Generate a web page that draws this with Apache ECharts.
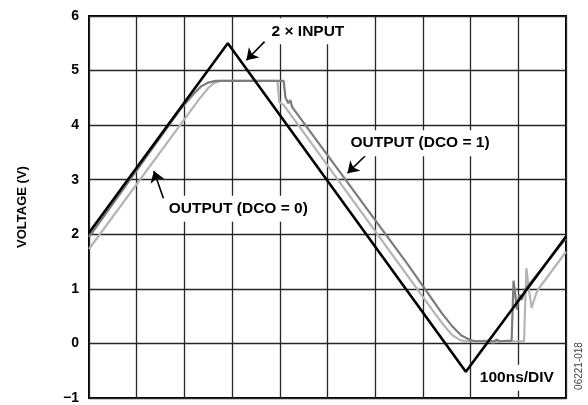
<!DOCTYPE html>
<html>
<head>
<meta charset="utf-8">
<script src="https://cdn.jsdelivr.net/npm/echarts@6/dist/echarts.min.js"></script>
<style>
html, body { margin: 0; padding: 0; background: #fff; }
#chart { width: 588px; height: 405px; }
</style>
</head>
<body>
<div id="chart"></div>
<script>
// time in divisions (100ns/DIV), voltage in V
var inputT = [0, 2.91, 7.90, 10]
var inputV = [2.03, 5.50, -0.52, 1.96]

var dco1T = [0, 1.9, 2.2, 2.35, 2.5, 2.65, 4.08, 4.12, 4.18, 4.22, 4.26, 6.69, 7.40, 7.60, 7.80, 8.00, 8.10, 8.50, 8.55, 8.60, 8.86, 8.90, 8.93, 8.97, 9.02, 9.07, 9.15, 10]
var dco1V = [1.95, 4.27, 4.58, 4.71, 4.78, 4.81, 4.81, 4.50, 4.40, 4.46, 4.33, 1.44, 0.55, 0.33, 0.15, 0.06, 0.04, 0.04, 0.07, 0.04, 0.05, 1.15, 0.95, 0.62, 0.90, 0.80, 1.00, 1.92]

var dco0T = [0, 2.33, 2.50, 2.62, 2.75, 3.95, 3.99, 4.03, 4.08, 7.25, 7.45, 7.62, 7.78, 7.90, 8.40, 8.45, 8.70, 9.12, 9.17, 9.22, 9.28, 9.35, 9.40, 10]
var dco0V = [1.73, 4.50, 4.68, 4.77, 4.81, 4.81, 4.42, 4.45, 4.37, 0.55, 0.32, 0.15, 0.06, 0.04, 0.05, 0.02, 0.04, 0.04, 1.38, 1.00, 0.65, 0.85, 0.97, 1.68]

var yTicks = [-1, 0, 1, 2, 3, 4, 5, 6]

function zip(t, v) {
  return t.map(function (x, i) { return [x, v[i]] })
}

var font = 'Liberation Sans, Arial, sans-serif'

function note(text, x, y) {
  return {
    coord: [x, y],
    symbol: 'rect',
    symbolSize: 0,
    label: {
      show: true,
      position: 'inside',
      formatter: text,
      color: '#000',
      fontFamily: font,
      fontWeight: 'bold',
      fontSize: 15.5,
      backgroundColor: '#fff',
      padding: [5, 3]
    }
  }
}

function arrow(x1, y1, x2, y2) {
  return [{ coord: [x1, y1] }, { coord: [x2, y2] }]
}

var chart = echarts.init(document.getElementById('chart'))

var option = {
  animation: false,
  backgroundColor: '#fff',
  grid: {
    left: 89,
    top: 16,
    width: 477,
    height: 382,
    show: true,
    borderColor: '#000',
    borderWidth: 2,
    backgroundColor: 'transparent'
  },
  xAxis: {
    type: 'value',
    min: 0,
    max: 10,
    interval: 1,
    axisLine: { show: false },
    axisTick: { show: false },
    axisLabel: { show: false },
    splitLine: { show: true, lineStyle: { color: '#262626', width: 1.3 } }
  },
  yAxis: {
    type: 'value',
    min: yTicks[0],
    max: yTicks[yTicks.length - 1],
    interval: 1,
    name: 'VOLTAGE (V)',
    nameLocation: 'middle',
    nameRotate: 90,
    nameGap: 60,
    nameTextStyle: { fontFamily: font, fontWeight: 'bold', fontSize: 13, color: '#000' },
    axisLine: { show: false },
    axisTick: { show: false },
    axisLabel: {
      margin: 10,
      fontFamily: font,
      fontWeight: 'bold',
      fontSize: 14,
      color: '#000',
      formatter: function (v) { return String(v).replace('-', '\u2212') }
    },
    splitLine: { show: true, lineStyle: { color: '#262626', width: 1.3 } }
  },
  series: [
    {
      name: 'OUTPUT (DCO = 0)',
      type: 'line',
      showSymbol: false,
      data: zip(dco0T, dco0V),
      lineStyle: { color: '#b4b4b4', width: 2.2 },
      z: 3
    },
    {
      name: 'OUTPUT (DCO = 1)',
      type: 'line',
      showSymbol: false,
      data: zip(dco1T, dco1V),
      lineStyle: { color: '#7c7c7c', width: 2.2 },
      z: 4
    },
    {
      name: '2 × INPUT',
      type: 'line',
      showSymbol: false,
      data: zip(inputT, inputV),
      lineStyle: { color: '#000', width: 2.6 },
      z: 5,
      markLine: {
        silent: true,
        symbol: ['none', 'arrow'],
        symbolSize: 11,
        label: { show: false },
        lineStyle: { color: '#000', width: 1.6, type: 'solid' },
        data: [
          arrow(3.68, 5.53, 3.30, 5.19),
          arrow(5.85, 3.49, 5.42, 3.12),
          arrow(1.56, 2.66, 1.36, 3.16)
        ]
      },
      markPoint: {
        silent: true,
        data: [
          note('2 × INPUT', 4.59, 5.72),
          note('OUTPUT (DCO = 1)', 6.94, 3.67),
          note('OUTPUT (DCO = 0)', 3.13, 2.47),
          note('100ns/DIV', 8.97, -0.63)
        ]
      }
    }
  ],
  graphic: [
    {
      type: 'text',
      x: 579,
      y: 366,
      rotation: Math.PI / 2,
      style: {
        text: '06221-018',
        fontFamily: font,
        fontSize: 10,
        fill: '#444',
        align: 'center',
        verticalAlign: 'middle'
      }
    }
  ]
}

chart.setOption(option)
</script>
</body>
</html>
